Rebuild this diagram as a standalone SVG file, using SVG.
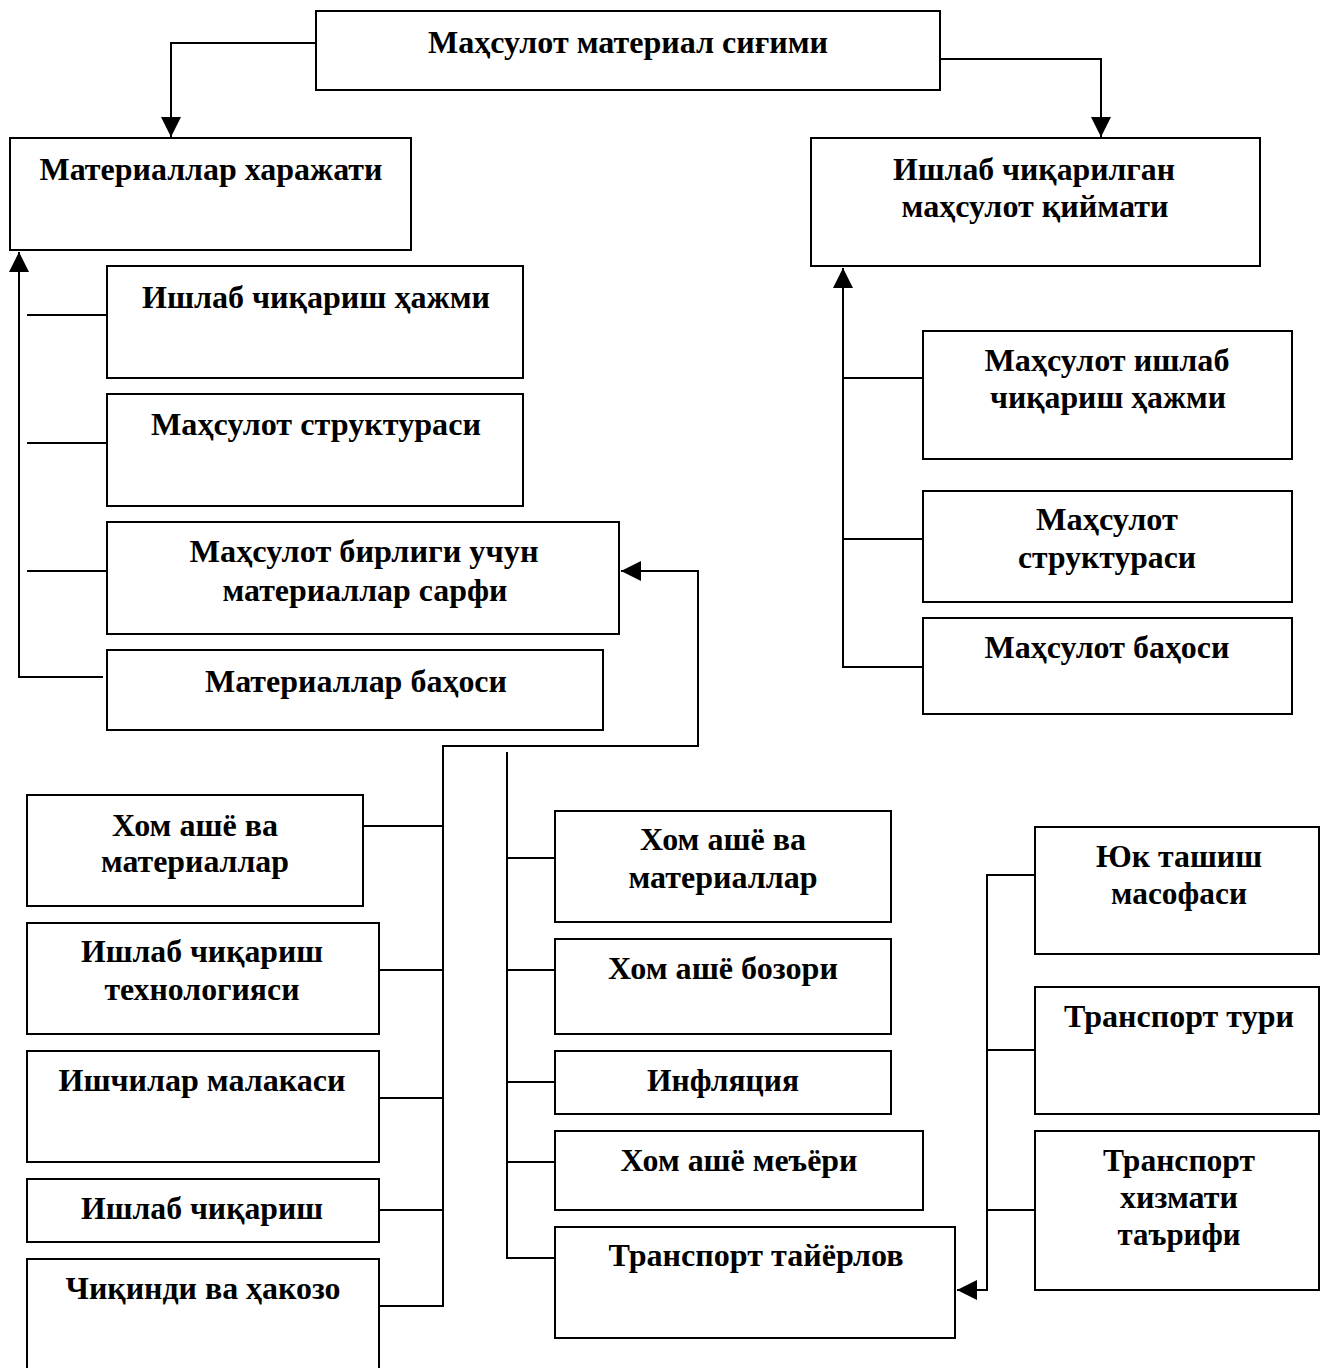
<svg xmlns="http://www.w3.org/2000/svg" width="1320" height="1368" viewBox="0 0 1320 1368">
<style>
.box{fill:#fff;stroke:#000;stroke-width:2}
.t{font-family:"Liberation Serif","Times New Roman",serif;font-weight:bold;font-size:31px;fill:#000;text-anchor:middle}
.c{fill:none;stroke:#000;stroke-width:2}
</style>
<defs>
<marker id="arr" markerUnits="userSpaceOnUse" markerWidth="20" markerHeight="20" refX="18" refY="9" orient="auto" viewBox="0 0 18 18">
<path d="M0,0 L18,9 L0,18 z" fill="#000"/>
</marker>
</defs>
<rect width="1320" height="1368" fill="#fff"/>
<g id="connectors">
<path class="c" d="M316,43 H171 V137" marker-end="url(#arr)"/>
<path class="c" d="M940,59 H1101 V137" marker-end="url(#arr)"/>
<path class="c" d="M103,677 H19 V252" marker-end="url(#arr)"/>
<path class="c" d="M27,315 H107 M27,443 H107 M27,571 H107"/>
<path class="c" d="M923,667 H843 V268" marker-end="url(#arr)"/>
<path class="c" d="M843,378 H923 M843,539 H923"/>
<path class="c" d="M379,1306 H443 V746 H698 V571 H621" marker-end="url(#arr)"/>
<path class="c" d="M363,826 H443 M379,970 H443 M379,1098 H443 M379,1210 H443"/>
<path class="c" d="M507,752 V1258 H555 M507,858 H555 M507,970 H555 M507,1082 H555 M507,1162 H555"/>
<path class="c" d="M1035,875 H987 V1290 H957" marker-end="url(#arr)"/>
<path class="c" d="M987,1050 H1035 M987,1210 H1035"/>
</g>
<g id="n-top"><rect class="box" x="316" y="11" width="624" height="79"/><text class="t" x="628" y="53" textLength="400" lengthAdjust="spacingAndGlyphs">Маҳсулот материал сиғими</text></g>
<g id="n-mat-cost"><rect class="box" x="10" y="138" width="401" height="112"/><text class="t" x="211" y="180" textLength="343" lengthAdjust="spacingAndGlyphs">Материаллар харажати</text></g>
<g id="n-prod-value"><rect class="box" x="811" y="138" width="449" height="128"/><text class="t" x="1034" y="180" textLength="282" lengthAdjust="spacingAndGlyphs">Ишлаб чиқарилган</text><text class="t" x="1035" y="217" textLength="267" lengthAdjust="spacingAndGlyphs">маҳсулот қиймати</text></g>
<g id="n-l1"><rect class="box" x="107" y="266" width="416" height="112"/><text class="t" x="316" y="308" textLength="348" lengthAdjust="spacingAndGlyphs">Ишлаб чиқариш ҳажми</text></g>
<g id="n-l2"><rect class="box" x="107" y="394" width="416" height="112"/><text class="t" x="316" y="435" textLength="330" lengthAdjust="spacingAndGlyphs">Маҳсулот структураси</text></g>
<g id="n-l3"><rect class="box" x="107" y="522" width="512" height="112"/><text class="t" x="364" y="562" textLength="349" lengthAdjust="spacingAndGlyphs">Маҳсулот бирлиги учун</text><text class="t" x="365" y="601" textLength="285" lengthAdjust="spacingAndGlyphs">материаллар сарфи</text></g>
<g id="n-l4"><rect class="box" x="107" y="650" width="496" height="80"/><text class="t" x="356" y="692" textLength="302" lengthAdjust="spacingAndGlyphs">Материаллар баҳоси</text></g>
<g id="n-r1"><rect class="box" x="923" y="331" width="369" height="128"/><text class="t" x="1107" y="371" textLength="245" lengthAdjust="spacingAndGlyphs">Маҳсулот ишлаб</text><text class="t" x="1108" y="408" textLength="236" lengthAdjust="spacingAndGlyphs">чиқариш ҳажми</text></g>
<g id="n-r2"><rect class="box" x="923" y="491" width="369" height="111"/><text class="t" x="1107" y="530" textLength="142" lengthAdjust="spacingAndGlyphs">Маҳсулот</text><text class="t" x="1107" y="568" textLength="178" lengthAdjust="spacingAndGlyphs">структураси</text></g>
<g id="n-r3"><rect class="box" x="923" y="618" width="369" height="96"/><text class="t" x="1107" y="658" textLength="245" lengthAdjust="spacingAndGlyphs">Маҳсулот баҳоси</text></g>
<g id="n-b1"><rect class="box" x="27" y="795" width="336" height="111"/><text class="t" x="195" y="836" textLength="166" lengthAdjust="spacingAndGlyphs">Хом ашё ва</text><text class="t" x="195" y="872" textLength="188" lengthAdjust="spacingAndGlyphs">материаллар</text></g>
<g id="n-b2"><rect class="box" x="27" y="923" width="352" height="111"/><text class="t" x="202" y="962" textLength="242" lengthAdjust="spacingAndGlyphs">Ишлаб чиқариш</text><text class="t" x="202" y="1000" textLength="195" lengthAdjust="spacingAndGlyphs">технологияси</text></g>
<g id="n-b3"><rect class="box" x="27" y="1051" width="352" height="111"/><text class="t" x="202" y="1091" textLength="287" lengthAdjust="spacingAndGlyphs">Ишчилар малакаси</text></g>
<g id="n-b4"><rect class="box" x="27" y="1179" width="352" height="63"/><text class="t" x="202" y="1219" textLength="242" lengthAdjust="spacingAndGlyphs">Ишлаб чиқариш</text></g>
<g id="n-b5"><rect class="box" x="27" y="1259" width="352" height="120"/><text class="t" x="203" y="1299" textLength="275" lengthAdjust="spacingAndGlyphs">Чиқинди ва ҳакозо</text></g>
<g id="n-m1"><rect class="box" x="555" y="811" width="336" height="111"/><text class="t" x="723" y="850" textLength="166" lengthAdjust="spacingAndGlyphs">Хом ашё ва</text><text class="t" x="723" y="888" textLength="189" lengthAdjust="spacingAndGlyphs">материаллар</text></g>
<g id="n-m2"><rect class="box" x="555" y="939" width="336" height="95"/><text class="t" x="723" y="979" textLength="230" lengthAdjust="spacingAndGlyphs">Хом ашё бозори</text></g>
<g id="n-m3"><rect class="box" x="555" y="1051" width="336" height="63"/><text class="t" x="723" y="1091" textLength="152" lengthAdjust="spacingAndGlyphs">Инфляция</text></g>
<g id="n-m4"><rect class="box" x="555" y="1131" width="368" height="79"/><text class="t" x="739" y="1171" textLength="237" lengthAdjust="spacingAndGlyphs">Хом ашё меъёри</text></g>
<g id="n-m5"><rect class="box" x="555" y="1227" width="400" height="111"/><text class="t" x="756" y="1266" textLength="295" lengthAdjust="spacingAndGlyphs">Транспорт тайёрлов</text></g>
<g id="n-t1"><rect class="box" x="1035" y="827" width="284" height="127"/><text class="t" x="1179" y="867" textLength="166" lengthAdjust="spacingAndGlyphs">Юк ташиш</text><text class="t" x="1179" y="904" textLength="136" lengthAdjust="spacingAndGlyphs">масофаси</text></g>
<g id="n-t2"><rect class="box" x="1035" y="987" width="284" height="127"/><text class="t" x="1179" y="1027" textLength="230" lengthAdjust="spacingAndGlyphs">Транспорт тури</text></g>
<g id="n-t3"><rect class="box" x="1035" y="1131" width="284" height="159"/><text class="t" x="1179" y="1171" textLength="152" lengthAdjust="spacingAndGlyphs">Транспорт</text><text class="t" x="1179" y="1208" textLength="118" lengthAdjust="spacingAndGlyphs">хизмати</text><text class="t" x="1179" y="1245" textLength="123" lengthAdjust="spacingAndGlyphs">таърифи</text></g>
</svg>
